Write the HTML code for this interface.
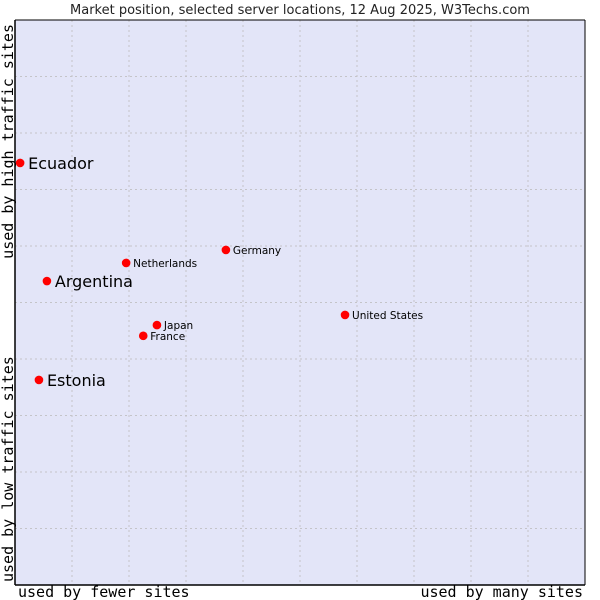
<!DOCTYPE html>
<html><head><meta charset="utf-8"><style>
html,body{margin:0;padding:0;background:#fff;width:600px;height:600px;overflow:hidden}
svg text{font-family:"DejaVu Sans","Liberation Sans",sans-serif}
.mono{font-family:"DejaVu Sans Mono","Liberation Mono",monospace}
</style></head><body>
<svg id="chart" width="600" height="600">
<text x="300" y="14" text-anchor="middle" font-size="13" fill="#222">Market position, selected server locations, 12 Aug 2025, W3Techs.com</text>
<rect x="15" y="20" width="570" height="565" fill="#e3e5f8"/>
<g id="grid"></g>
<line x1="15" y1="20" x2="15" y2="585" stroke="#000" stroke-width="1.5"/>
<line x1="15" y1="585" x2="585" y2="585" stroke="#000" stroke-width="1.5"/>
<line x1="15" y1="20" x2="585" y2="20" stroke="#000" stroke-width="1"/>
<line x1="585" y1="20" x2="585" y2="585" stroke="#000" stroke-width="1"/>
<text class="mono" x="18" y="597" font-size="15" fill="#000">used by fewer sites</text>
<text class="mono" x="583" y="597" font-size="15" text-anchor="end" fill="#000">used by many sites</text>
<text class="mono" transform="translate(13,24) rotate(-90)" font-size="15" text-anchor="end" fill="#000">used by high traffic sites</text>
<text class="mono" transform="translate(13,582) rotate(-90)" font-size="15" fill="#000">used by low traffic sites</text>
<g id="points"></g>
</svg>
<script>
const names=["Ecuador","Argentina","Estonia","Netherlands","Germany","Japan","France","United States"];
const xValues=[0.9,5.6,4.2,19.5,37.0,24.9,22.5,57.9];
const yValues=[74.7,53.8,36.3,57.0,59.3,46.0,44.1,47.8];
const highlighted=[true,true,true,false,false,false,false,false];
const gridSteps=[10,20,30,40,50,60,70,80,90];
const NS="http://www.w3.org/2000/svg";
const X=v=>15+v*5.7, Y=v=>585-v*5.65;
const grid=document.getElementById('grid');
gridSteps.forEach(g=>{
  const v=document.createElementNS(NS,'line');
  v.setAttribute('x1',X(g));v.setAttribute('x2',X(g));v.setAttribute('y1',20);v.setAttribute('y2',585);
  v.setAttribute('stroke','#c4c4c8');v.setAttribute('stroke-dasharray','2,3');
  
  
  grid.appendChild(v);
  const h=document.createElementNS(NS,'line');
  h.setAttribute('y1',Y(g));h.setAttribute('y2',Y(g));h.setAttribute('x1',15);h.setAttribute('x2',585);
  h.setAttribute('stroke','#c4c4c8');h.setAttribute('stroke-dasharray','2,3');
  
  
  grid.appendChild(h);
});
const pts=document.getElementById('points');
names.forEach((n,i)=>{
  const cx=X(xValues[i]), cy=Y(yValues[i]);
  const d=document.createElementNS(NS,'circle');
  d.setAttribute('cx',cx);d.setAttribute('cy',cy);d.setAttribute('r',4.3);
  d.setAttribute('fill','#f00');
  
  
  pts.appendChild(d);
  const t=document.createElementNS(NS,'text');
  const big=highlighted[i];
  t.setAttribute('x',cx+(big?8:7));t.setAttribute('y',cy+(big?6:4));
  t.setAttribute('font-size',big?16:10.5);t.setAttribute('fill','#000');
  t.textContent=n;
  
  
  pts.appendChild(t);
});
</script>
</body></html>
